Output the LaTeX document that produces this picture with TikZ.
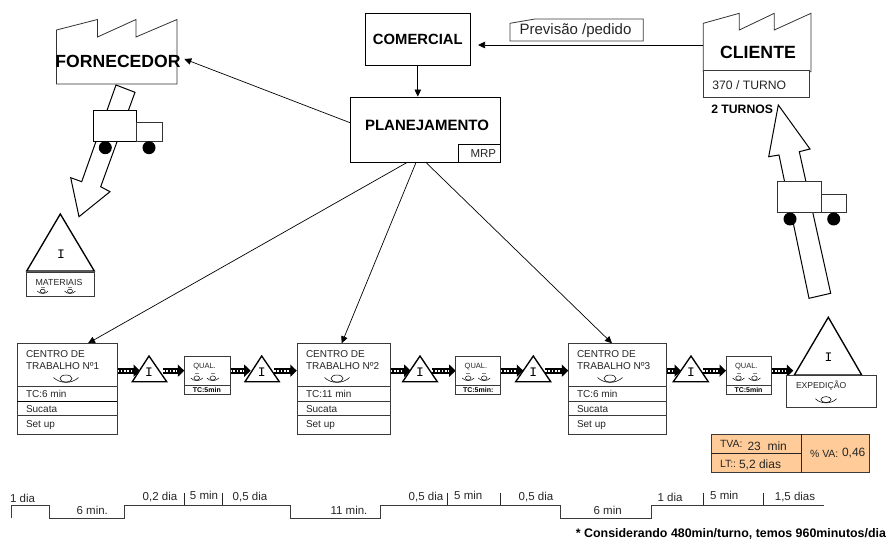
\documentclass[tikz,border=0pt]{standalone}
\usepackage{fontspec}
\setmainfont{Liberation Sans}
\newfontfamily\monof{Liberation Mono}
\usetikzlibrary{arrows.meta}
\definecolor{boxline}{HTML}{3A3A3A}
\definecolor{orangefill}{HTML}{FFCC99}
\newcommand{\fs}[1]{\fontsize{#1}{#1}\selectfont}
\tikzset{
  x=1pt,y=-1pt,
  outline/.style={draw=boxline,line width=0.8pt,fill=white},
  heavy/.style={draw=black,line width=1.35pt,fill=white,line join=miter},
  block/.style={draw=black,line width=1pt,fill=white,line join=miter},
  conn/.style={draw=black,line width=0.7pt,-{Triangle[length=7pt,width=6.5pt]}},
  pusharrow/.style={draw=black,line width=5.6pt,-{Triangle[length=6.5pt,width=12pt]},
    postaction={draw=white,line width=2pt,dash pattern=on 1.7pt off 1.6pt,shorten >=7pt,-}},
  txt/.style={inner sep=0pt,outer sep=0pt,text=black!85},
  ltxt/.style={txt,anchor=west},
  btxt/.style={inner sep=0pt,outer sep=0pt,font=\bfseries,text=black},
  itxt/.style={inner sep=0pt,font=\monof\fs{13}},
  wheel/.style={fill=black,draw=none},
  rail/.style={draw=boxline,line width=0.8pt},
  opr/.pic={
    \draw[line width=0.55pt,fill=white] (0,-0.5) ellipse (6 and 3.5);
    \draw[line width=0.55pt] (-12.5,-1.5) .. controls (-6,5) and (6,5) .. (12.5,-1.5);
  },
  oprs/.pic={
    \draw[line width=0.5pt,gray] (-2,-5.5) -- (2,-5.5);
    \draw[line width=0.5pt,fill=white] (0,-1) ellipse (2.8 and 2.1);
    \draw[line width=0.5pt] (-6,-1) .. controls (-3,2.5) and (3,2.5) .. (6,-1);
  },
}
\begin{document}
\begin{tikzpicture}
\useasboundingbox (0,0) rectangle (886,540);
% ---------- named connector ends
\coordinate (planW) at (350,122.7);
\coordinate (fornE) at (184.3,59);
\coordinate (cliW) at (703.3,45);
\coordinate (comE) at (478,45);
\coordinate (p1) at (407,162.5);
\coordinate (p2) at (416,162.5);
\coordinate (p3) at (426,162.5);
\coordinate (ct1T) at (88,343.3);
\coordinate (ct2T) at (341.7,343.3);
\coordinate (ct3T) at (612,343.3);
\foreach \n/\xx in {a0/117.3,a1/140,a2/163,a3/184.3,a4/230,a5/250.7,a6/274,a7/296.8,
  b0/387.3,b1/410.7,b2/431.7,b3/455.7,b4/500.7,b5/523.3,b6/545,b7/568.3,
  c0/658.3,c1/681,c2/703,c3/726,c4/771.7,c5/793.3}
  {\coordinate (\n) at (\xx,370.7);}
% ---------- fornecedor
\draw[outline,draw=black!80] (56.5,30) -- (97.5,19.5) -- (97.5,37) -- (136,19.5) -- (136,37) -- (177,19.5) -- (177,84) -- (56.5,84) -- cycle;
\node[btxt,font=\bfseries\fs{17.6}] (forn) at (118,61) {FORNECEDOR};
\draw[block] (116,85) -- (135,92.3) -- (100.7,186.7) -- (110,191.7) -- (79,216.7) -- (70.7,177.7) -- (81.7,181.7) -- cycle;
\draw[outline,draw=black] (93.3,110.3) rectangle (136.7,141.3);
\draw[outline,draw=black!80] (136.7,122.3) rectangle (162.3,141.3);
\fill[wheel] (105.3,147.7) circle (6.5) (149,147.7) circle (6.5);
% materiais
\draw[heavy] (60.3,214) -- (94.3,271) -- (26.7,271) -- cycle;
\node[itxt] (iM) at (61,254) {I};
\draw[outline] (26.7,272) rectangle (94.3,296);
\node[txt,font=\fs{8.8}] (mat) at (59,282) {MATERIAIS};
\pic[scale=.9] at (42.7,292) {oprs};
\pic[scale=.9] at (70,292) {oprs};
% ---------- comercial / planejamento
\node[draw=black,line width=0.8pt,minimum width=105pt,minimum height=51.7pt,inner sep=0pt,font=\bfseries\fs{14.8}] (com) at (417.8,39.2) {COMERCIAL};
\node[draw=black,line width=0.8pt,minimum width=150.3pt,minimum height=65.3pt,inner sep=0pt] (plan) at (425.15,129.65) {};
\node[btxt,font=\bfseries\fs{15}] (planT) at (427,125) {PLANEJAMENTO};
\node[draw=black,line width=0.7pt,minimum width=42pt,minimum height=18pt,inner sep=0pt,font=\fs{11.5},text=black!85] (mrp) at (479.3,153.3) {\hspace*{8pt}MRP};
\draw[outline] (510,23.3) -- (535,19) -- (643.3,19) -- (643.3,41) -- (510,41) -- cycle;
\node[txt,font=\fs{15}] (prev) at (575.5,31) {Previsão /pedido};
% ---------- cliente
\draw[outline,draw=black!80] (703.3,23.3) -- (739.3,13.3) -- (739.3,30) -- (774.3,13.3) -- (774.3,30) -- (811,13.3) -- (811,71.7) -- (703.3,71.7) -- cycle;
\node[btxt,font=\bfseries\fs{17.7}] (cli) at (758,52.3) {CLIENTE};
\draw[outline] (703.3,70.7) rectangle (809,97);
\node[ltxt,font=\fs{12.2}] (turno) at (712.3,85) {370 / TURNO};
\node[btxt,anchor=west,font=\bfseries\fs{12.2}] (turnos) at (711.3,109) {2 TURNOS};
\draw[block] (809,298.3) -- (830.7,293.3) -- (799.3,151.7) -- (810,149) -- (778.3,105) -- (768.7,156.7) -- (779,155) -- cycle;
\draw[outline,draw=black!80] (777.7,181) rectangle (821.7,212.7);
\draw[outline,draw=black!80] (821.7,194) rectangle (846.7,212.7);
\fill[wheel] (790,219) circle (6.5) (833.7,219) circle (6.5);
% ---------- info connectors
\draw[conn] (planW) -- (fornE);
\draw[conn] (cliW) -- (comE);
\draw[conn] (com.south) -- (com.south |- plan.north);
\draw[conn] (p1) -- (ct1T);
\draw[conn] (p2) -- (ct2T);
\draw[conn] (p3) -- (ct3T);
% ---------- push arrows
\foreach \s/\e in {a0/a1,a2/a3,a4/a5,a6/a7,b0/b1,b2/b3,b4/b5,b6/b7,c0/c1,c2/c3,c4/c5}
  {\draw[pusharrow] (\s) -- (\e);}
% ---------- work centres
\foreach \nm/\xl/\xr/\tc/\num/\opx in {1/17.3/117.3/TC:6 min/1/66, 2/297.3/390.7/TC:11 min/2/337, 3/568.3/666.3/TC:6 min/3/610}{
  \draw[outline] (\xl,343.3) rectangle (\xr,434.3);
  \draw[outline] (\xl,386.3) -- (\xr,386.3);
  \draw[outline] (\xl,401.3) -- (\xr,401.3);
  \draw[outline] (\xl,415.7) -- (\xr,415.7);
  \node[ltxt,font=\fs{10}] (ctA\nm) at ([xshift=8.7pt]\xl,354) {CENTRO DE};
  \node[ltxt,font=\fs{10}] (ctB\nm) at ([xshift=8.7pt]\xl,366.5) {TRABALHO Nº\num};
  \pic at (\opx,379) {opr};
  \node[ltxt,font=\fs{10}] (ctC\nm) at ([xshift=8.7pt]\xl,394) {\tc};
  \node[ltxt,font=\fs{10}] (ctD\nm) at ([xshift=8.7pt]\xl,409) {Sucata};
  \node[ltxt,font=\fs{10}] (ctE\nm) at ([xshift=8.7pt]\xl,425) {Set up};
}
\draw[draw=black,line width=1.1pt] (17.3,401.3) -- (117.3,401.3);
% ---------- inventory triangles
\foreach \nm/\xa/\xl/\xr in {A/149/132.3/166.7, B/261.7/245/279.3, C/420/402.7/437.3, D/533.3/515.7/550.7, E/691/673.3/708.3}{
  \draw[heavy] (\xa,356) -- (\xr,381.7) -- (\xl,381.7) -- cycle;
  \node[itxt] (i\nm) at ([yshift=-.5pt]\xa,371.5) {I};
}
% ---------- quality boxes
\foreach \nm/\xl/\xr/\tc in {1/184.3/230/TC:5min, 2/455.7/500.7/TC:5min:, 3/726/771.7/TC:5min}{
  \draw[outline] (\xl,356) rectangle (\xr,394.5);
  \draw[outline] (\xl,385.7) -- (\xr,385.7);
  \node[ltxt,font=\fs{7.5}] (qu\nm) at ([xshift=9pt]\xl,366.3) {QUAL.};
  \node[btxt,font=\bfseries\fs{7}] (qt\nm) at ([xshift=22.5pt]\xl,390) {\tc};
  \pic at ([xshift=12.5pt]\xl,379) {oprs};
  \pic at ([xshift=28.5pt]\xl,379) {oprs};
}
% ---------- expedicao
\draw[heavy] (828.3,317.3) -- (861.7,375) -- (794.3,375) -- cycle;
\node[itxt] (iX) at (828.5,357) {I};
\draw[outline] (786.3,375.7) rectangle (876.7,407.7);
\node[ltxt,font=\fs{8.6}] (exp) at (796,386) {EXPEDIÇÃO};
\pic[scale=.85] at (826,400) {opr};
% ---------- summary
\draw[draw=boxline,line width=0.8pt,fill=orangefill] (711,434.3) rectangle (869.3,472.7);
\draw[draw=black!85,line width=0.7pt] (801.7,434.3) -- (801.7,472.7);
\draw[draw=black!85,line width=0.7pt] (711,453.3) -- (801.7,453.3);
\node[ltxt,font=\fs{10.5}] (tva) at (720,443.5) {TVA:};
\node[ltxt,font=\fs{12}] (tvaV) at (747.5,446) {23\ \ min};
\node[ltxt,font=\fs{10.5}] (lt) at (720,463.5) {LT::};
\node[ltxt,font=\fs{12}] (ltV) at (739,464.5) {5,2 dias};
\node[ltxt,font=\fs{10.5}] (va) at (810,453.5) {\% VA:};
\node[ltxt,font=\fs{12}] (vaV) at (842,453.5) {0,46};
% ---------- timeline
\draw[rail] (11.7,518) -- (11.7,505) -- (49.7,505) -- (49.7,518) -- (124.3,518) -- (124.3,505) -- (290,505) -- (290,518) -- (380,518) -- (380,505) -- (560.7,505) -- (560.7,518) -- (651,518) -- (651,505) -- (824,505);
\foreach \xx in {184.3,222.3,447.3,500.7,703.3,763.3}{\draw[draw=black!85,line width=0.7pt] (\xx,492.7) -- (\xx,505);}
\foreach \nm/\xx/\yy/\tt in {t1/22.5/498/1 dia, t2/92.3/510.5/6 min., t3/160/497.5/{0,2 dia}, t4/204/495.5/5 min, t5/250/497.5/{0,5 dia},
  t6/349/510/11 min., t7/426/497.5/{0,5 dia}, t8/468.3/495.5/5 min, t9/536/497.5/{0,5 dia}, t10/607.7/510.5/6 min,
  t11/670/497.5/1 dia, t12/724.3/495.5/5 min, t13/795/497.5/{1,5 dias}}{
  \node[txt,font=\fs{11.5}] (\nm) at (\xx,\yy) {\tt};
}
\node[btxt,font=\bfseries\fs{12.4},anchor=east] (foot) at (886,534) {* Considerando 480min/turno, temos 960minutos/dia};
\end{tikzpicture}
\end{document}
